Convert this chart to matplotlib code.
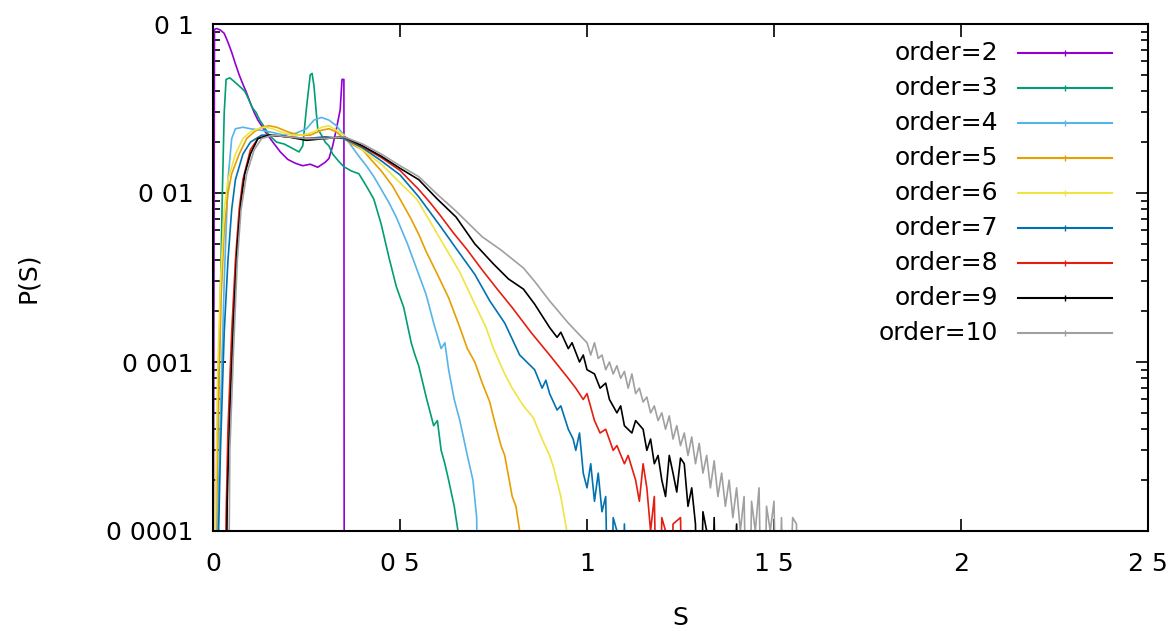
import numpy as np
import matplotlib.pyplot as plt
from matplotlib.ticker import FixedLocator, LogLocator, NullFormatter

# distribuicao P(S), uma serie por ordem
s2 = [0.0, 0.004, 0.01, 0.02, 0.03, 0.04, 0.05, 0.06, 0.07, 0.08, 0.09, 0.10, 0.11, 0.12, 0.13, 0.14,
      0.16, 0.18, 0.20, 0.22, 0.24, 0.26, 0.28, 0.30, 0.31, 0.32, 0.33, 0.34, 0.345, 0.35, 0.351]
p2 = [1e-5, 0.093, 0.094, 0.092, 0.088, 0.078, 0.068, 0.058, 0.05, 0.044, 0.039, 0.034, 0.03, 0.027, 0.025, 0.023,
      0.02, 0.0175, 0.0158, 0.015, 0.0145, 0.0148, 0.0142, 0.0152, 0.016, 0.019, 0.024, 0.031, 0.047, 0.047, 1e-5]

s3 = [0.0, 0.01, 0.018, 0.025, 0.03, 0.035, 0.045, 0.055, 0.065, 0.075, 0.085, 0.095, 0.105, 0.115, 0.125,
      0.135, 0.15, 0.17, 0.19, 0.21, 0.23, 0.24, 0.25, 0.26, 0.265, 0.27, 0.275, 0.28, 0.29, 0.30, 0.31, 0.32,
      0.335, 0.35, 0.37, 0.39, 0.41, 0.43, 0.45, 0.47, 0.49, 0.51, 0.53, 0.54, 0.55, 0.57, 0.59, 0.60, 0.61,
      0.62, 0.63, 0.645, 0.655, 0.66]
p3 = [1e-5, 2e-4, 0.0015, 0.01, 0.03, 0.047, 0.048, 0.046, 0.044, 0.042, 0.04, 0.036, 0.032, 0.03, 0.027,
      0.025, 0.022, 0.02, 0.0195, 0.0185, 0.0175, 0.019, 0.032, 0.05, 0.051, 0.043, 0.032, 0.024, 0.022, 0.02,
      0.019, 0.017, 0.0155, 0.0143, 0.0135, 0.013, 0.011, 0.0092, 0.0065, 0.0042, 0.0028, 0.0021, 0.0013,
      0.0011, 0.00095, 0.00062, 0.00042, 0.00045, 0.0003, 0.00025, 0.0002, 0.00014, 0.0001, 1e-5]

s4 = [0.0, 0.012, 0.02, 0.03, 0.04, 0.05, 0.06, 0.08, 0.10, 0.13, 0.16, 0.19, 0.22, 0.25, 0.27, 0.29, 0.31,
      0.33, 0.35, 0.37, 0.39, 0.41, 0.43, 0.45, 0.47, 0.49, 0.52, 0.55, 0.57, 0.59, 0.61, 0.62, 0.63, 0.645,
      0.66, 0.68, 0.695, 0.705, 0.71]
p4 = [1e-5, 1e-4, 5e-4, 0.003, 0.012, 0.021, 0.024, 0.0245, 0.024, 0.0235, 0.0228, 0.022, 0.0225, 0.024,
      0.027, 0.028, 0.027, 0.025, 0.022, 0.019, 0.0165, 0.0145, 0.0125, 0.0105, 0.0088, 0.0072, 0.005, 0.0033,
      0.0025, 0.0017, 0.0012, 0.0013, 0.0009, 0.0006, 0.00045, 0.00028, 0.0002, 0.00012, 1e-5]

s5 = [0.0, 0.008, 0.015, 0.022, 0.03, 0.04, 0.05, 0.07, 0.09, 0.11, 0.13, 0.15, 0.17, 0.20, 0.23, 0.26, 0.29,
      0.31, 0.33, 0.35, 0.37, 0.40, 0.42, 0.45, 0.48, 0.50, 0.53, 0.55, 0.57, 0.60, 0.63, 0.66, 0.68, 0.70,
      0.72, 0.74, 0.75, 0.77, 0.78, 0.80, 0.81, 0.82, 0.825]
p5 = [1e-5, 1e-4, 6e-4, 0.0025, 0.006, 0.01, 0.013, 0.017, 0.021, 0.023, 0.0245, 0.025, 0.0245, 0.023, 0.022,
      0.022, 0.0235, 0.024, 0.023, 0.021, 0.0195, 0.018, 0.016, 0.0135, 0.011, 0.0092, 0.007, 0.0057, 0.0045,
      0.0033, 0.0024, 0.0016, 0.0012, 0.001, 0.00075, 0.00058, 0.00047, 0.00032, 0.00028, 0.00016, 0.00014,
      0.0001, 1e-5]

s6 = [0.0, 0.006, 0.012, 0.02, 0.03, 0.04, 0.06, 0.08, 0.10, 0.12, 0.14, 0.16, 0.18, 0.21, 0.24, 0.27, 0.29,
      0.31, 0.33, 0.35, 0.37, 0.40, 0.45, 0.50, 0.545, 0.58, 0.62, 0.66, 0.70, 0.73, 0.75, 0.78, 0.80, 0.83,
      0.856, 0.88, 0.90, 0.91, 0.93, 0.946, 0.95]
p6 = [1e-5, 1e-4, 8e-4, 0.003, 0.008, 0.012, 0.017, 0.021, 0.023, 0.024, 0.0245, 0.024, 0.023, 0.022, 0.022,
      0.023, 0.0245, 0.025, 0.0235, 0.022, 0.02, 0.018, 0.0148, 0.0115, 0.0092, 0.0068, 0.0048, 0.0034, 0.0022,
      0.0016, 0.0012, 0.00085, 0.0007, 0.00055, 0.00047, 0.00035, 0.00028, 0.00024, 0.00016, 0.0001, 1e-5]

s7 = [0.0, 0.015, 0.02, 0.03, 0.04, 0.05, 0.06, 0.08, 0.10, 0.13, 0.16, 0.20, 0.25, 0.30, 0.35, 0.40, 0.45,
      0.50, 0.55, 0.607, 0.65, 0.70, 0.74, 0.78, 0.82, 0.86, 0.88, 0.89, 0.90, 0.92, 0.93, 0.95, 0.963, 0.97,
      0.98, 0.99, 1.0, 1.01, 1.02, 1.03, 1.04, 1.05, 1.06, 1.07, 1.08, 1.09, 1.10, 1.11]
p7 = [1e-5, 1e-4, 3e-4, 0.0015, 0.004, 0.008, 0.012, 0.017, 0.02, 0.022, 0.022, 0.0215, 0.021, 0.0215, 0.021,
      0.0185, 0.0155, 0.0128, 0.0095, 0.0064, 0.0047, 0.0033, 0.0023, 0.0017, 0.0011, 0.0009, 0.0007, 0.00078,
      0.00065, 0.00052, 0.00055, 0.0004, 0.00035, 0.0003, 0.00038, 0.00022, 0.00018, 0.00025, 0.00015,
      0.00022, 0.00013, 0.00016, 1e-5, 0.00012, 0.0001, 1e-5, 0.00011, 1e-5]

s8 = [0.0, 0.03, 0.035, 0.04, 0.05, 0.06, 0.07, 0.08, 0.10, 0.12, 0.15, 0.20, 0.25, 0.30, 0.35, 0.40, 0.45,
      0.50, 0.55, 0.58, 0.607, 0.643, 0.68, 0.72, 0.76, 0.80, 0.85, 0.90, 0.95, 0.97, 0.99, 1.0, 1.02, 1.035,
      1.05, 1.07, 1.08, 1.10, 1.11, 1.13, 1.14, 1.15, 1.16, 1.17, 1.18, 1.19, 1.20, 1.21, 1.22, 1.23, 1.25,
      1.26, 1.27, 1.28]
p8 = [1e-5, 1e-5, 1.2e-4, 4e-4, 0.0015, 0.004, 0.008, 0.012, 0.018, 0.021, 0.022, 0.0215, 0.021, 0.021,
      0.0215, 0.0188, 0.0162, 0.0136, 0.0105, 0.0088, 0.0074, 0.0058, 0.0046, 0.0035, 0.0027, 0.0021, 0.0015,
      0.0011, 0.0008, 0.0007, 0.0006, 0.00065, 0.00045, 0.00038, 0.0004, 0.0003, 0.00032, 0.00025, 0.00028,
      0.0002, 0.00015, 0.00025, 0.00018, 0.0001, 0.00016, 1e-5, 0.00012, 0.0001, 1e-5, 0.00011, 0.00012, 1e-5,
      0.0001, 1e-5]

s9 = [0.0, 0.033, 0.038, 0.045, 0.055, 0.065, 0.075, 0.085, 0.10, 0.12, 0.15, 0.20, 0.25, 0.30, 0.35, 0.40,
      0.45, 0.50, 0.55, 0.60, 0.65, 0.70, 0.75, 0.79, 0.83, 0.86, 0.90, 0.92, 0.93, 0.95, 0.96, 0.98, 0.99,
      1.0, 1.02, 1.035, 1.05, 1.06, 1.08, 1.09, 1.10, 1.12, 1.13, 1.15, 1.16, 1.17, 1.18, 1.19, 1.20, 1.21,
      1.22, 1.23, 1.24, 1.25, 1.26, 1.27, 1.28, 1.29, 1.30, 1.31, 1.32, 1.33, 1.34, 1.35, 1.37, 1.38, 1.40,
      1.41]
p9 = [1e-5, 1e-5, 1.5e-4, 5e-4, 0.0018, 0.005, 0.009, 0.013, 0.017, 0.021, 0.022, 0.0215, 0.0205, 0.021,
      0.0215, 0.019, 0.0165, 0.014, 0.012, 0.0092, 0.0072, 0.005, 0.0038, 0.0031, 0.0027, 0.0022, 0.0016,
      0.0014, 0.0015, 0.0012, 0.0013, 0.001, 0.0011, 0.0009, 0.00085, 0.0007, 0.00075, 0.0006, 0.0005,
      0.00055, 0.00042, 0.00038, 0.00045, 0.0004, 0.0003, 0.00035, 0.00025, 0.00028, 0.0002, 0.00016, 0.00028,
      0.00022, 0.00017, 0.00027, 0.00025, 0.00014, 0.00018, 0.00011, 1e-5, 0.00013, 0.0001, 1e-5, 0.00012,
      1e-5, 0.0001, 1e-5, 0.00011, 1e-5]

s10 = [0.0, 0.04, 0.045, 0.055, 0.065, 0.075, 0.09, 0.11, 0.13, 0.16, 0.20, 0.25, 0.30, 0.35, 0.40, 0.45,
       0.50, 0.55, 0.60, 0.65, 0.72, 0.77, 0.83, 0.86, 0.90, 0.95, 1.00, 1.01, 1.02, 1.03, 1.04, 1.05, 1.06,
       1.07, 1.08, 1.09, 1.10, 1.11, 1.12, 1.13, 1.14, 1.15, 1.16, 1.17, 1.18, 1.19, 1.20, 1.21, 1.22, 1.23,
       1.24, 1.25, 1.26, 1.27, 1.28, 1.29, 1.30, 1.31, 1.32, 1.33, 1.34, 1.35, 1.36, 1.37, 1.38, 1.39, 1.40,
       1.41, 1.42, 1.43, 1.44, 1.45, 1.46, 1.47, 1.48, 1.49, 1.50, 1.51, 1.52, 1.53, 1.55, 1.56, 1.57]
p10 = [1e-5, 1e-5, 3e-4, 0.0012, 0.004, 0.008, 0.013, 0.018, 0.021, 0.022, 0.0215, 0.021, 0.021, 0.0215,
       0.0195, 0.017, 0.0145, 0.0125, 0.0098, 0.0078, 0.0055, 0.0046, 0.0036, 0.003, 0.0023, 0.0017, 0.0013,
       0.0011, 0.0013, 0.00105, 0.0011, 0.0009, 0.001, 0.00085, 0.00095, 0.0008, 0.00088, 0.0007, 0.00085,
       0.00065, 0.0007, 0.00058, 0.00062, 0.0005, 0.00055, 0.00045, 0.0005, 0.0004, 0.00048, 0.00035, 0.00042,
       0.00032, 0.00038, 0.00028, 0.00036, 0.00025, 0.00033, 0.00022, 0.00028, 0.00018, 0.00026, 0.00016,
       0.00022, 0.00014, 0.0002, 0.00012, 0.00018, 0.0001, 0.00016, 1e-5, 0.00015, 0.0001, 0.00018, 1e-5,
       0.00014, 0.0001, 0.00015, 1e-5, 0.00012, 1e-5, 0.00012, 0.00011, 1e-5]

ordens = [2, 3, 4, 5, 6, 7, 8, 9, 10]
series_s = [s2, s3, s4, s5, s6, s7, s8, s9, s10]
series_p = [p2, p3, p4, p5, p6, p7, p8, p9, p10]
cores = ['#9400d3', '#009e73', '#56b4e9', '#e69f00', '#f0e442', '#0072b2', '#e51e10', '#000000', '#a0a0a0']

x_ticks = [0, 0.5, 1, 1.5, 2, 2.5]
x_labels = ['0', '0 5', '1', '1 5', '2', '2 5']
y_ticks = [0.0001, 0.001, 0.01, 0.1]
y_labels = ['0 0001', '0 001', '0 01', '0 1']

fs = 18
fig = plt.figure(figsize=(11.73, 6.35), dpi=100)
ax = fig.add_axes([213 / 1173, 1 - 531 / 635, 935 / 1173, 507 / 635])

for o, s, p, c in zip(ordens, series_s, series_p, cores):
    ax.plot(s, p, color=c, linewidth=1.2)

ax.set_yscale('log')
ax.set_xlim(0, 2.5)
ax.set_ylim(1e-4, 0.1)

ax.xaxis.set_major_locator(FixedLocator(x_ticks))
ax.set_xticklabels(x_labels, fontsize=fs)
ax.yaxis.set_major_locator(FixedLocator(y_ticks))
ax.set_yticklabels(y_labels, fontsize=fs)
ax.yaxis.set_minor_locator(LogLocator(base=10, subs=np.arange(2, 10)))
ax.yaxis.set_minor_formatter(NullFormatter())

ax.tick_params(which='both', direction='in', top=True, right=True, width=1.2)
ax.tick_params(axis='x', which='major', length=9, pad=15)
ax.tick_params(axis='y', which='major', length=9, pad=14)
ax.tick_params(axis='y', which='minor', length=5)
for sp in ax.spines.values():
    sp.set_linewidth(1.5)

ax.set_xlabel('S', fontsize=fs, labelpad=22)
ax.set_ylabel('P(S)', fontsize=fs, labelpad=48)

# legenda manual: texto alinhado a direita e linha depois
for i, (o, c) in enumerate(zip(ordens, cores)):
    y = 0.9428 - i * 0.069
    ax.text(0.8396, y, f'order={o}', transform=ax.transAxes, ha='right', va='center', fontsize=fs)
    ax.plot([0.861, 0.9615], [y, y], transform=ax.transAxes, color=c, linewidth=1.5)
    ax.plot([0.911], [y], transform=ax.transAxes, color=c, marker='|', markersize=4)

fig.savefig('out.png', dpi=100)
